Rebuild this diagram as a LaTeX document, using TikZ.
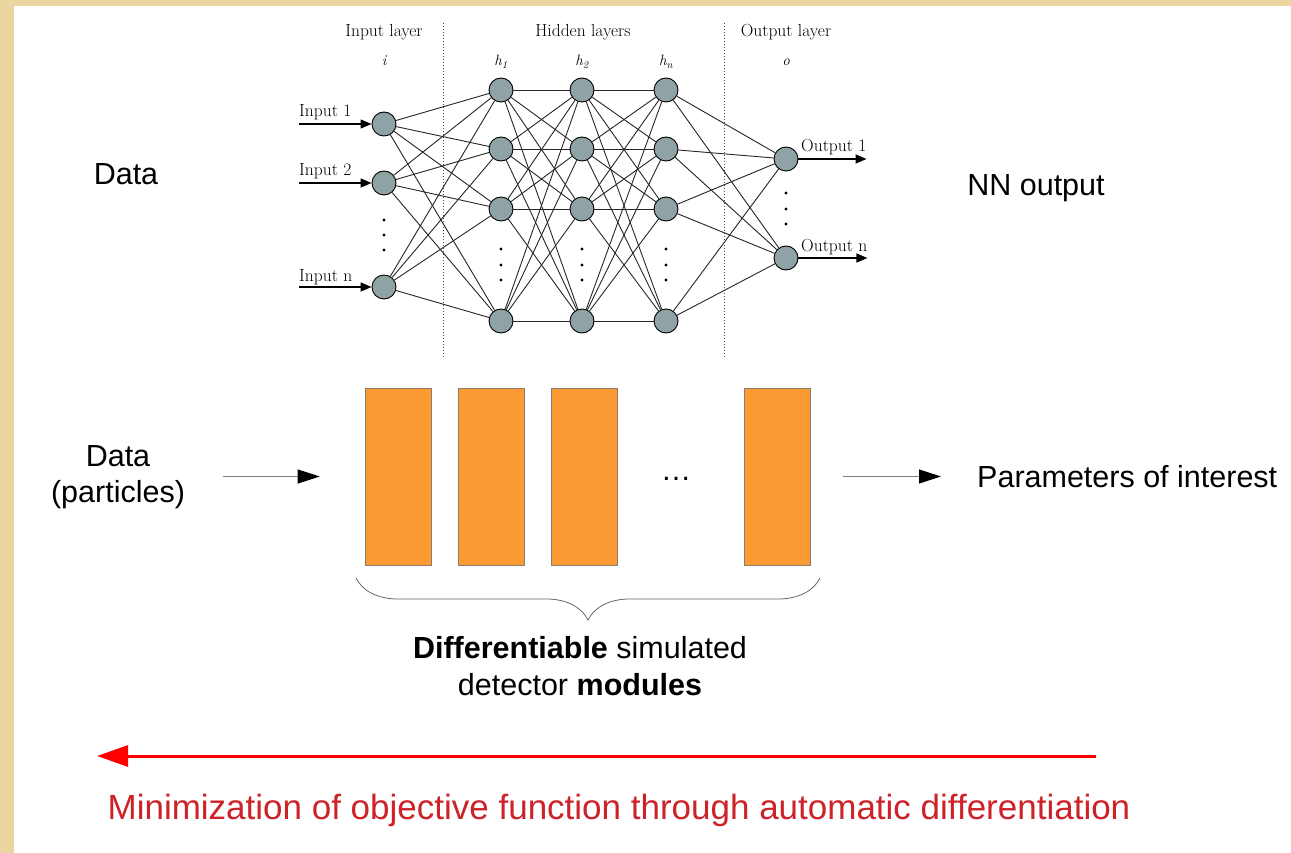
\documentclass[tikz,border=0pt]{standalone}
\usepackage{fontspec}
\newfontfamily\arial{Liberation Sans}
\usetikzlibrary{arrows.meta,decorations.pathreplacing}

\definecolor{parchment}{RGB}{235,214,162}
\definecolor{neurongray}{RGB}{143,163,166}
\definecolor{moduleorange}{RGB}{251,154,51}
\definecolor{moduleedge}{RGB}{140,125,110}
\definecolor{minred}{RGB}{204,34,40}

\newcommand\nnfont{\fontsize{17.5}{21}\selectfont}
\newcommand\layerfont{\fontsize{15}{17}\selectfont\itshape}
\newcommand\slidefont{\arial\fontsize{30.5}{36.5}\selectfont}
\newcommand\minfont{\arial\fontsize{35}{40}\selectfont}

\tikzset{
  neuron/.style={circle, draw=black, line width=0.9pt, fill=neurongray, minimum size=24pt, inner sep=0pt},
  edge/.style={draw=black!85, line width=0.9pt},
  nnlabel/.style={draw=none, font=\nnfont, inner sep=0pt},
  layerlabel/.style={draw=none, font=\layerfont, inner sep=0pt},
  inarrow/.style={line width=1.3pt, -{Triangle[length=11pt,width=9pt]}},
  separator/.style={black!70, line width=0.8pt, dash pattern=on 1pt off 2pt},
  slidetext/.style={draw=none, font=\slidefont, inner sep=0pt},
  module/.style={draw=moduleedge, line width=0.6pt, fill=moduleorange, minimum width=66pt, minimum height=177pt, inner sep=0pt},
  flow/.style={draw=black!50, line width=0.9pt, -{Triangle[length=22pt,width=14pt,black]}},
  modbrace/.style={draw=black!60, line width=0.8pt, decorate, decoration={brace, mirror, amplitude=42pt}},
  minarrow/.style={draw=red, line width=3pt, -{Triangle[length=31pt,width=21pt]}}
}

\begin{document}
\begin{tikzpicture}[x=1pt, y=-1pt]
    % page
    \useasboundingbox (0,0) rectangle (1291,853);
    \fill [parchment] (0,0) rectangle (1291,853);
    \fill [white] (14,6) rectangle (1291,853);

    % network headings
    \node [nnlabel, anchor=base] (tin) at (384,37) {Input layer};
    \node [nnlabel, anchor=base] (thid) at (583,37) {Hidden layers};
    \node [nnlabel, anchor=base] (tout) at (786,37) {Output layer};
    \node [layerlabel, anchor=base] (li) at (384,66) {i};
    \node [layerlabel, anchor=base] (lh1) at (501,66) {h\textsubscript{1}};
    \node [layerlabel, anchor=base] (lh2) at (582,66) {h\textsubscript{2}};
    \node [layerlabel, anchor=base] (lhn) at (666,66) {h\textsubscript{n}};
    \node [layerlabel, anchor=base] (lo) at (786,66) {o};
    \draw [separator] (443,23) -- (443,358);
    \draw [separator] (724,23) -- (724,358);

    % neurons
    \node [neuron] (i1) at (384,124) {};
    \node [neuron] (i2) at (384,183) {};
    \node [neuron] (i3) at (384,287) {};
    \foreach \x/\l in {501/a, 582/b, 666/c}
      \foreach \y/\k in {90/1, 149/2, 209/3, 321/4}
        \node [neuron] (\l\k) at (\x,\y) {};
    \node [neuron] (o1) at (786,159) {};
    \node [neuron] (o2) at (786,258) {};

    % weights
    \foreach \s in {i1,i2,i3}
      \foreach \t in {a1,a2,a3,a4}
        \draw [edge] (\s) -- (\t);
    \foreach \k in {1,...,4}
      \foreach \m in {1,...,4} {
        \draw [edge] (a\k) -- (b\m);
        \draw [edge] (b\k) -- (c\m);
      }
    \foreach \k in {1,...,4}
      \foreach \m in {1,2}
        \draw [edge] (c\k) -- (o\m);

    % vertical dots
    \foreach \x/\y in {384/220, 384/235, 384/250, 786/193, 786/209, 786/224}
      \fill (\x,\y) circle [radius=1.6pt];
    \foreach \x in {501,582,666}
      \foreach \y in {249,265,280}
        \fill (\x,\y) circle [radius=1.6pt];

    % inputs and outputs
    \node [nnlabel, anchor=base west] (in1) at (299,117) {Input 1};
    \node [nnlabel, anchor=base west] (in2) at (299,176) {Input 2};
    \node [nnlabel, anchor=base west] (in3) at (299,281) {Input n};
    \draw [inarrow] (in1.west |- i1) -- (i1);
    \draw [inarrow] (in2.west |- i2) -- (i2);
    \draw [inarrow] (in3.west |- i3) -- (i3);
    \node [nnlabel, anchor=base west] (on1) at (801,152) {Output 1};
    \node [nnlabel, anchor=base west] (on2) at (801,252) {Output n};
    \draw [inarrow] (o1) -- (on1.east |- o1);
    \draw [inarrow] (o2) -- (on2.east |- o2);

    % side labels
    \node [slidetext, anchor=base] (data) at (126,185) {Data};
    \node [slidetext, anchor=base] (nnout) at (1036,196) {NN output};

    % detector chain
    \node [slidetext, align=center] (dp) at (118,477) {Data\\(particles)};
    \node [module] (m1) at (398,476.5) {};
    \node [module] (m2) at (491.5,476.5) {};
    \node [module] (m3) at (584.5,476.5) {};
    \node [module] (m4) at (777,476.5) {};
    \node [slidetext, anchor=base] (more) at (676,480) {\ldots};
    \node [slidetext, anchor=west] (poi) at (977,477) {Parameters of interest};
    \draw [flow, shorten <=38pt, shorten >=45pt] (dp.east |- m1) -- (m1);
    \draw [flow, shorten <=33pt, shorten >=36pt] (m4) -- (m4 -| poi.west);

    % brace
    \coordinate (bl) at (356,578);
    \coordinate (br) at (820,578);
    \draw [modbrace] (bl) -- (br);
    \node [slidetext, align=center] (dsm) at (580,666) {\textbf{Differentiable} simulated\\detector \textbf{modules}};

    % minimization
    \coordinate (redstart) at (1096,756);
    \coordinate (redend) at (97,756);
    \draw [minarrow] (redstart) -- (redend);
    \node [draw=none, font=\minfont, text=minred, inner sep=0pt, anchor=base] (mintext) at (619,819) {Minimization of objective function through automatic differentiation};
\end{tikzpicture}
\end{document}
